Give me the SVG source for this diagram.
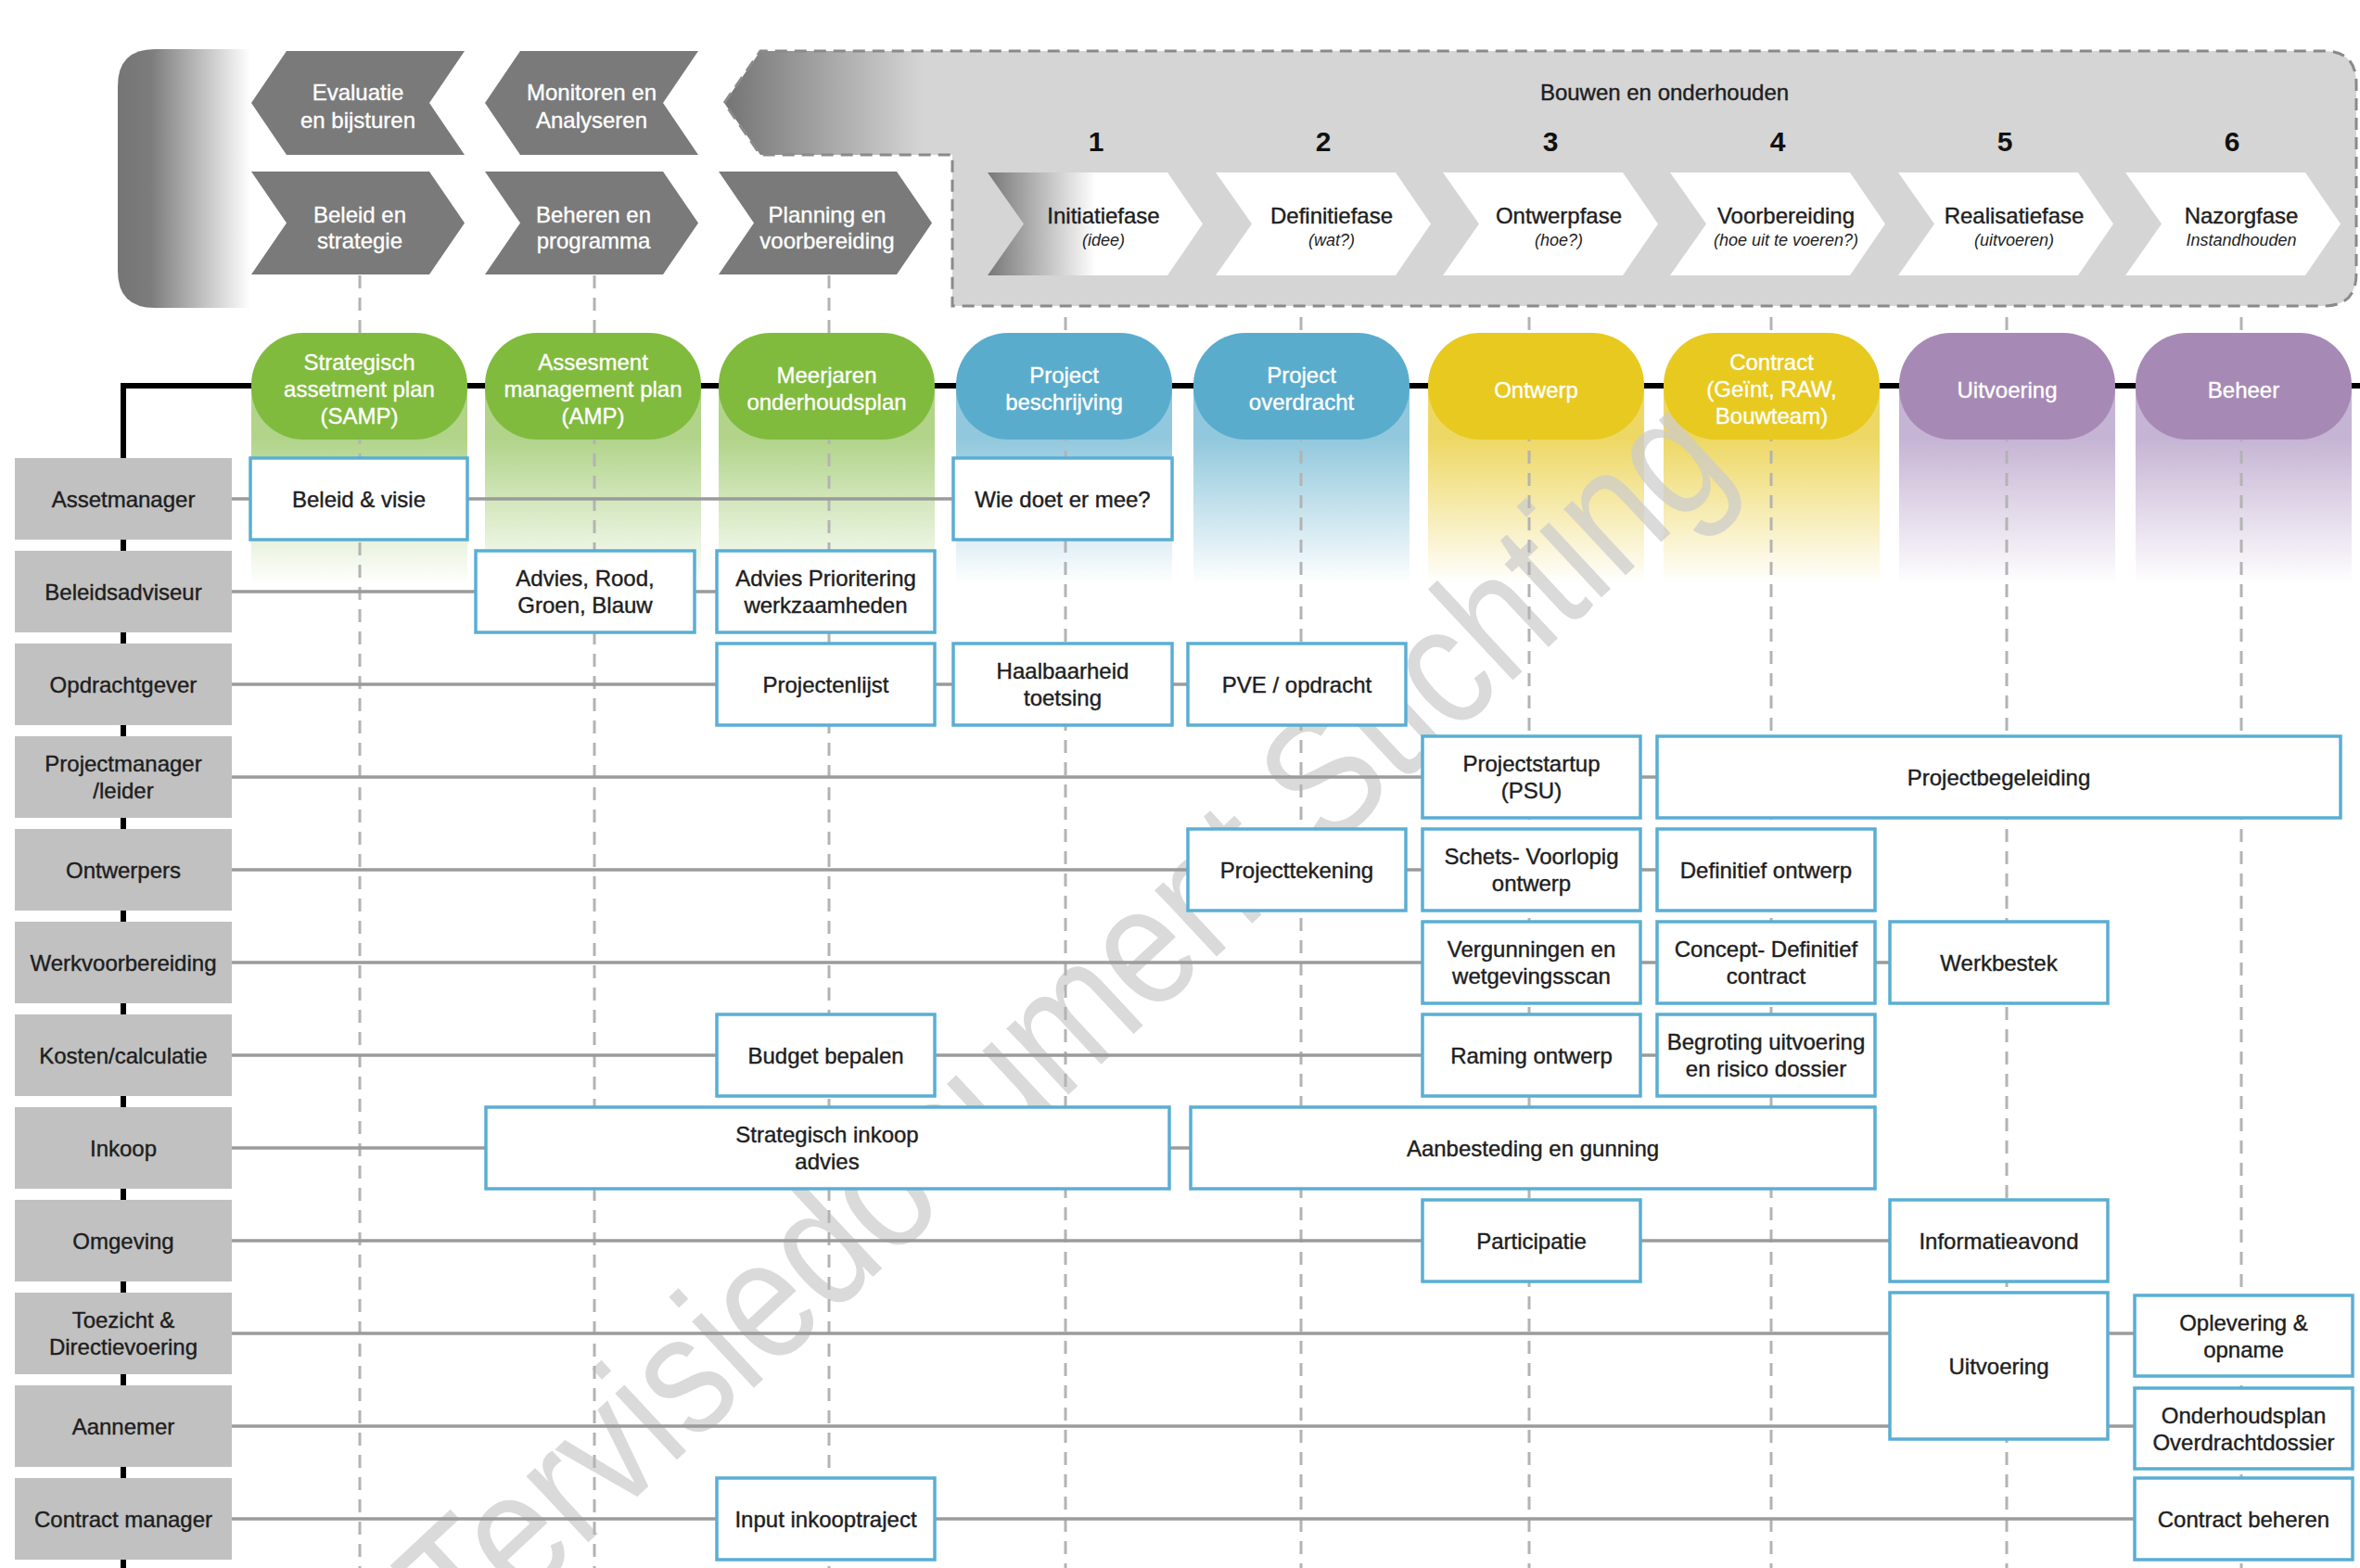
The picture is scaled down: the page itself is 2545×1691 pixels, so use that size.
<svg xmlns="http://www.w3.org/2000/svg" width="2545" height="1691" viewBox="0 0 2545 1691">
<defs>
<style>
.t{font-family:"Liberation Sans",Arial,sans-serif;font-size:24px;fill:#1e1e1e;stroke:#1e1e1e;stroke-width:0.4;text-anchor:middle}
.tw{font-family:"Liberation Sans",Arial,sans-serif;font-size:24px;fill:#ffffff;stroke:#ffffff;stroke-width:0.35;text-anchor:middle}
.ti{font-family:"Liberation Sans",Arial,sans-serif;font-size:18px;font-style:italic;fill:#1e1e1e;text-anchor:middle}
.num{font-family:"Liberation Sans",Arial,sans-serif;font-size:30px;font-weight:bold;fill:#111;text-anchor:middle}
.chev{fill:#7a7a7a}
.phase{fill:#ffffff}
.role rect{fill:#c1c1c1}
.task rect{fill:#ffffff;stroke:#5aaed3;stroke-width:3.5}
.row{stroke:#9b9b9b;stroke-width:3.5;fill:none}
.dash{stroke:#b3b3b3;stroke-width:3;stroke-dasharray:14 10;fill:none}
</style>
<linearGradient id="gLeft" gradientUnits="userSpaceOnUse" x1="127" y1="0" x2="270" y2="0">
<stop offset="0" stop-color="#757575"/><stop offset="0.25" stop-color="#7c7c7c"/><stop offset="1" stop-color="#ffffff"/>
</linearGradient>
<linearGradient id="gBig" gradientUnits="userSpaceOnUse" x1="781" y1="0" x2="995" y2="0">
<stop offset="0" stop-color="#747474"/><stop offset="1" stop-color="#d5d5d5"/>
</linearGradient>
<linearGradient id="gInit" gradientUnits="userSpaceOnUse" x1="1065" y1="0" x2="1182" y2="0">
<stop offset="0" stop-color="#777777"/><stop offset="1" stop-color="#ffffff"/>
</linearGradient>
<linearGradient id="fG" x1="0" y1="0" x2="0" y2="1"><stop offset="0.27" stop-color="#b1d48a"/><stop offset="1" stop-color="#ffffff"/></linearGradient>
<linearGradient id="fB" x1="0" y1="0" x2="0" y2="1"><stop offset="0.27" stop-color="#92c8dd"/><stop offset="1" stop-color="#ffffff"/></linearGradient>
<linearGradient id="fY" x1="0" y1="0" x2="0" y2="1"><stop offset="0.27" stop-color="#eed865"/><stop offset="1" stop-color="#ffffff"/></linearGradient>
<linearGradient id="fP" x1="0" y1="0" x2="0" y2="1"><stop offset="0.27" stop-color="#c6b4d4"/><stop offset="1" stop-color="#ffffff"/></linearGradient>
</defs>

<rect x="0" y="0" width="2545" height="1691" fill="#ffffff"/>

<!-- header -->
<g id="header">
<path d="M270,53 L167,53 Q127,53 127,93 L127,292 Q127,332 167,332 L270,332 Z" fill="url(#gLeft)"/>
<path d="M781,111 L820,55 L2506,55 Q2541,55 2541,90 L2541,295 Q2541,330 2506,330 L1027,330 L1027,167 L820,167 Z" fill="url(#gBig)" stroke="#8a8a8a" stroke-width="3" stroke-dasharray="13 8"/>
<text class="t" x="1795" y="108">Bouwen en onderhouden</text>
</g>

<g id="chev-evaluatie"><path class="chev" d="M271,111 L309,55 L501,55 L463,111 L501,167 L309,167 Z"/><text class="tw" x="386" y="107.5">Evaluatie</text><text class="tw" x="386" y="137.5">en bijsturen</text></g>
<g id="chev-monitoren"><path class="chev" d="M523,111 L561,55 L753,55 L715,111 L753,167 L561,167 Z"/><text class="tw" x="638" y="107.5">Monitoren en</text><text class="tw" x="638" y="137.5">Analyseren</text></g>
<g id="chev-beleid"><path class="chev" d="M271,185 L463,185 L501,240.5 L463,296 L271,296 L309,240.5 Z"/><text class="tw" x="388" y="239.5">Beleid en</text><text class="tw" x="388" y="267.5">strategie</text></g>
<g id="chev-beheren"><path class="chev" d="M523,185 L715,185 L753,240.5 L715,296 L523,296 L561,240.5 Z"/><text class="tw" x="640" y="239.5">Beheren en</text><text class="tw" x="640" y="267.5">programma</text></g>
<g id="chev-planning"><path class="chev" d="M775,185 L967,185 L1005,240.5 L967,296 L775,296 L813,240.5 Z"/><text class="tw" x="892" y="239.5">Planning en</text><text class="tw" x="892" y="267.5">voorbereiding</text></g>

<g id="phase-1"><text class="num" x="1182" y="163">1</text><path d="M1065,186 L1259,186 L1297,241.5 L1259,297 L1065,297 L1104,241.5 Z" fill="url(#gInit)"/><text class="t" x="1190" y="241">Initiatiefase</text><text class="ti" x="1190" y="265">(idee)</text></g>
<g id="phase-2"><text class="num" x="1427" y="163">2</text><path class="phase" d="M1311,186 L1505,186 L1543,241.5 L1505,297 L1311,297 L1350,241.5 Z"/><text class="t" x="1436" y="241">Definitiefase</text><text class="ti" x="1436" y="265">(wat?)</text></g>
<g id="phase-3"><text class="num" x="1672" y="163">3</text><path class="phase" d="M1556,186 L1750,186 L1788,241.5 L1750,297 L1556,297 L1595,241.5 Z"/><text class="t" x="1681" y="241">Ontwerpfase</text><text class="ti" x="1681" y="265">(hoe?)</text></g>
<g id="phase-4"><text class="num" x="1917" y="163">4</text><path class="phase" d="M1801,186 L1995,186 L2033,241.5 L1995,297 L1801,297 L1840,241.5 Z"/><text class="t" x="1926" y="241">Voorbereiding</text><text class="ti" x="1926" y="265">(hoe uit te voeren?)</text></g>
<g id="phase-5"><text class="num" x="2162" y="163">5</text><path class="phase" d="M2047,186 L2241,186 L2279,241.5 L2241,297 L2047,297 L2086,241.5 Z"/><text class="t" x="2172" y="241">Realisatiefase</text><text class="ti" x="2172" y="265">(uitvoeren)</text></g>
<g id="phase-6"><text class="num" x="2407" y="163">6</text><path class="phase" d="M2292,186 L2486,186 L2524,241.5 L2486,297 L2292,297 L2331,241.5 Z"/><text class="t" x="2417" y="241">Nazorgfase</text><text class="ti" x="2417" y="265">Instandhouden</text></g>

<!-- column fades -->
<g id="fades">
<rect x="271" y="416" width="233" height="214" fill="url(#fG)"/>
<rect x="523" y="416" width="233" height="214" fill="url(#fG)"/>
<rect x="775" y="416" width="233" height="214" fill="url(#fG)"/>
<rect x="1031" y="416" width="233" height="214" fill="url(#fB)"/>
<rect x="1287" y="416" width="233" height="214" fill="url(#fB)"/>
<rect x="1540" y="416" width="233" height="214" fill="url(#fY)"/>
<rect x="1794" y="416" width="233" height="214" fill="url(#fY)"/>
<rect x="2048" y="416" width="233" height="214" fill="url(#fP)"/>
<rect x="2303" y="416" width="233" height="214" fill="url(#fP)"/>
</g>

<!-- watermark -->
<g id="watermark" opacity="0.72" fill="#cccccc">
<text transform="translate(505,1784) rotate(-43) scale(0.85,1)" font-family="'Liberation Sans',Arial,sans-serif" font-size="185">Tervisiedocument Stichting</text>
</g>

<!-- connectors -->
<g id="connectors">
<path class="dash" d="M388,297 V1691 M641,297 V1691 M894,297 V1691 M1149,342 V1691 M1403,342 V1691 M1649,342 V1691 M1910,342 V1691 M2164,342 V1691 M2417,342 V1691"/>
<path d="M130,416 H2545 M133,413 V1691" stroke="#000" stroke-width="6" fill="none"/>
<path class="row" d="M250,538 H1100 M250,638 H800 M250,738 H1300 M250,838 H1800 M250,938 H1800 M250,1038 H2050 M250,1138 H1800 M250,1238 H1300 M250,1338 H2050 M250,1438 H2310 M250,1538 H2310 M250,1638 H2310"/>
</g>

<!-- pills -->
<g id="pill-samp"><rect x="271" y="359" width="233" height="115" rx="56" fill="#80bb3e"/><text class="tw" x="387.5" y="398.5">Strategisch</text><text class="tw" x="387.5" y="427.5">assetment plan</text><text class="tw" x="387.5" y="456.5">(SAMP)</text></g>
<g id="pill-amp"><rect x="523" y="359" width="233" height="115" rx="56" fill="#80bb3e"/><text class="tw" x="639.5" y="398.5">Assesment</text><text class="tw" x="639.5" y="427.5">management plan</text><text class="tw" x="639.5" y="456.5">(AMP)</text></g>
<g id="pill-mop"><rect x="775" y="359" width="233" height="115" rx="56" fill="#80bb3e"/><text class="tw" x="891.5" y="412.5">Meerjaren</text><text class="tw" x="891.5" y="441.5">onderhoudsplan</text></g>
<g id="pill-pb"><rect x="1031" y="359" width="233" height="115" rx="56" fill="#5aaccd"/><text class="tw" x="1147.5" y="412.5">Project</text><text class="tw" x="1147.5" y="441.5">beschrijving</text></g>
<g id="pill-po"><rect x="1287" y="359" width="233" height="115" rx="56" fill="#5aaccd"/><text class="tw" x="1403.5" y="412.5">Project</text><text class="tw" x="1403.5" y="441.5">overdracht</text></g>
<g id="pill-ontwerp"><rect x="1540" y="359" width="233" height="115" rx="56" fill="#e8c920"/><text class="tw" x="1656.5" y="428.5">Ontwerp</text></g>
<g id="pill-contract"><rect x="1794" y="359" width="233" height="115" rx="56" fill="#e8c920"/><text class="tw" x="1910.5" y="398.5">Contract</text><text class="tw" x="1910.5" y="427.5">(Geïnt, RAW,</text><text class="tw" x="1910.5" y="456.5">Bouwteam)</text></g>
<g id="pill-uitvoering"><rect x="2048" y="359" width="233" height="115" rx="56" fill="#a68ab5"/><text class="tw" x="2164.5" y="428.5">Uitvoering</text></g>
<g id="pill-beheer"><rect x="2303" y="359" width="233" height="115" rx="56" fill="#a68ab5"/><text class="tw" x="2419.5" y="428.5">Beheer</text></g>

<!-- roles -->
<g id="role-assetmanager" class="role"><rect x="16" y="494" width="234" height="88"/><text class="t" x="133" y="546.5">Assetmanager</text></g>
<g id="role-beleidsadviseur" class="role"><rect x="16" y="594" width="234" height="88"/><text class="t" x="133" y="646.5">Beleidsadviseur</text></g>
<g id="role-opdrachtgever" class="role"><rect x="16" y="694" width="234" height="88"/><text class="t" x="133" y="746.5">Opdrachtgever</text></g>
<g id="role-projectmanager" class="role"><rect x="16" y="794" width="234" height="88"/><text class="t" x="133" y="832">Projectmanager</text><text class="t" x="133" y="861">/leider</text></g>
<g id="role-ontwerpers" class="role"><rect x="16" y="894" width="234" height="88"/><text class="t" x="133" y="946.5">Ontwerpers</text></g>
<g id="role-werkvoorbereiding" class="role"><rect x="16" y="994" width="234" height="88"/><text class="t" x="133" y="1046.5">Werkvoorbereiding</text></g>
<g id="role-kosten" class="role"><rect x="16" y="1094" width="234" height="88"/><text class="t" x="133" y="1146.5">Kosten/calculatie</text></g>
<g id="role-inkoop" class="role"><rect x="16" y="1194" width="234" height="88"/><text class="t" x="133" y="1246.5">Inkoop</text></g>
<g id="role-omgeving" class="role"><rect x="16" y="1294" width="234" height="88"/><text class="t" x="133" y="1346.5">Omgeving</text></g>
<g id="role-toezicht" class="role"><rect x="16" y="1394" width="234" height="88"/><text class="t" x="133" y="1432">Toezicht &amp;</text><text class="t" x="133" y="1461">Directievoering</text></g>
<g id="role-aannemer" class="role"><rect x="16" y="1494" width="234" height="88"/><text class="t" x="133" y="1546.5">Aannemer</text></g>
<g id="role-contractmanager" class="role"><rect x="16" y="1594" width="234" height="88"/><text class="t" x="133" y="1646.5">Contract manager</text></g>

<!-- tasks -->
<g id="task-beleid-visie" class="task"><rect x="270" y="494" width="234" height="88"/><text class="t" x="387" y="546.5">Beleid &amp; visie</text></g>
<g id="task-wie-doet" class="task"><rect x="1028" y="494" width="236" height="88"/><text class="t" x="1146" y="546.5">Wie doet er mee?</text></g>

<g id="task-advies-rgb" class="task"><rect x="513" y="594" width="236" height="88"/><text class="t" x="631" y="632">Advies, Rood,</text><text class="t" x="631" y="661">Groen, Blauw</text></g>
<g id="task-advies-prio" class="task"><rect x="773" y="594" width="235" height="88"/><text class="t" x="890.5" y="632">Advies Prioritering</text><text class="t" x="890.5" y="661">werkzaamheden</text></g>

<g id="task-projectenlijst" class="task"><rect x="773" y="694" width="235" height="88"/><text class="t" x="890.5" y="746.5">Projectenlijst</text></g>
<g id="task-haalbaarheid" class="task"><rect x="1028" y="694" width="236" height="88"/><text class="t" x="1146" y="732">Haalbaarheid</text><text class="t" x="1146" y="761">toetsing</text></g>
<g id="task-pve" class="task"><rect x="1281" y="694" width="235" height="88"/><text class="t" x="1398.5" y="746.5">PVE / opdracht</text></g>

<g id="task-psu" class="task"><rect x="1534" y="794" width="235" height="88"/><text class="t" x="1651.5" y="832">Projectstartup</text><text class="t" x="1651.5" y="861">(PSU)</text></g>
<g id="task-projectbegeleiding" class="task"><rect x="1787" y="794" width="737" height="88"/><text class="t" x="2155.5" y="846.5">Projectbegeleiding</text></g>

<g id="task-projecttekening" class="task"><rect x="1281" y="894" width="235" height="88"/><text class="t" x="1398.5" y="946.5">Projecttekening</text></g>
<g id="task-schets" class="task"><rect x="1534" y="894" width="235" height="88"/><text class="t" x="1651.5" y="932">Schets- Voorlopig</text><text class="t" x="1651.5" y="961">ontwerp</text></g>
<g id="task-definitief" class="task"><rect x="1787" y="894" width="235" height="88"/><text class="t" x="1904.5" y="946.5">Definitief ontwerp</text></g>

<g id="task-vergunningen" class="task"><rect x="1534" y="994" width="235" height="88"/><text class="t" x="1651.5" y="1032">Vergunningen en</text><text class="t" x="1651.5" y="1061">wetgevingsscan</text></g>
<g id="task-concept" class="task"><rect x="1787" y="994" width="235" height="88"/><text class="t" x="1904.5" y="1032">Concept- Definitief</text><text class="t" x="1904.5" y="1061">contract</text></g>
<g id="task-werkbestek" class="task"><rect x="2038" y="994" width="235" height="88"/><text class="t" x="2155.5" y="1046.5">Werkbestek</text></g>

<g id="task-budget" class="task"><rect x="773" y="1094" width="235" height="88"/><text class="t" x="890.5" y="1146.5">Budget bepalen</text></g>
<g id="task-raming" class="task"><rect x="1534" y="1094" width="235" height="88"/><text class="t" x="1651.5" y="1146.5">Raming ontwerp</text></g>
<g id="task-begroting" class="task"><rect x="1787" y="1094" width="235" height="88"/><text class="t" x="1904.5" y="1132">Begroting uitvoering</text><text class="t" x="1904.5" y="1161">en risico dossier</text></g>

<g id="task-strategisch-inkoop" class="task"><rect x="524" y="1194" width="737" height="88"/><text class="t" x="892" y="1232">Strategisch inkoop</text><text class="t" x="892" y="1261">advies</text></g>
<g id="task-aanbesteding" class="task"><rect x="1284" y="1194" width="738" height="88"/><text class="t" x="1653" y="1246.5">Aanbesteding en gunning</text></g>

<g id="task-participatie" class="task"><rect x="1534" y="1294" width="235" height="88"/><text class="t" x="1651.5" y="1346.5">Participatie</text></g>
<g id="task-informatieavond" class="task"><rect x="2038" y="1294" width="235" height="88"/><text class="t" x="2155.5" y="1346.5">Informatieavond</text></g>

<g id="task-uitvoering" class="task"><rect x="2038" y="1394" width="235" height="158"/><text class="t" x="2155.5" y="1481.5">Uitvoering</text></g>
<g id="task-oplevering" class="task"><rect x="2302" y="1397" width="235" height="87"/><text class="t" x="2419.5" y="1434.5">Oplevering &amp;</text><text class="t" x="2419.5" y="1463.5">opname</text></g>
<g id="task-onderhoudsplan" class="task"><rect x="2302" y="1497" width="235" height="87"/><text class="t" x="2419.5" y="1534.5">Onderhoudsplan</text><text class="t" x="2419.5" y="1563.5">Overdrachtdossier</text></g>

<g id="task-input" class="task"><rect x="773" y="1594" width="235" height="88"/><text class="t" x="890.5" y="1646.5">Input inkooptraject</text></g>
<g id="task-contract-beheren" class="task"><rect x="2302" y="1594" width="235" height="88"/><text class="t" x="2419.5" y="1646.5">Contract beheren</text></g>
</svg>
